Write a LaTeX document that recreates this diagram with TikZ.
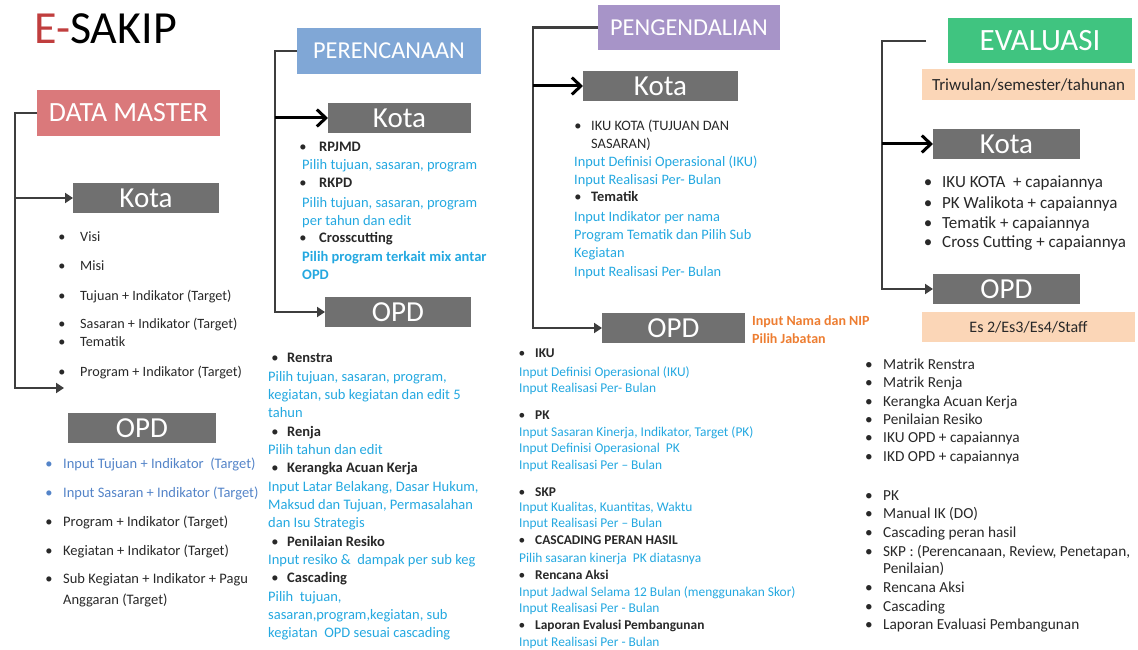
\documentclass[tikz,border=0pt]{standalone}
\usepackage{fontspec}
\setmainfont{Carlito}
\usetikzlibrary{arrows.meta}
\definecolor{titlered}{RGB}{192,62,62}
\definecolor{dmred}{RGB}{218,121,123}
\definecolor{perblue}{RGB}{128,167,214}
\definecolor{penpurple}{RGB}{167,148,200}
\definecolor{evgreen}{RGB}{64,196,128}
\definecolor{peach}{RGB}{251,214,183}
\definecolor{boxgray}{RGB}{112,112,112}
\definecolor{linegray}{RGB}{62,62,62}
\definecolor{txtblue}{RGB}{36,168,224}
\definecolor{opdblue}{RGB}{84,132,200}
\definecolor{txtorange}{RGB}{237,125,49}
\definecolor{txtdark}{RGB}{40,40,40}
\newcommand\fA{\fontsize{14.2}{17}\selectfont}
\newcommand\fB{\fontsize{14.5}{17}\selectfont}
\newcommand\fC{\fontsize{14.4}{17}\selectfont}
\newcommand\fD{\fontsize{13.4}{16}\selectfont}
\newcommand\fE{\fontsize{17}{20}\selectfont}
\newcommand\fF{\fontsize{15.3}{18}\selectfont}
\begin{document}
\begin{tikzpicture}[x=1pt,y=-1pt,
  bx/.style={inner sep=0pt, outer sep=0pt},
  hdr/.style={bx, text=white},
  gbox/.style={bx, fill=boxgray, text=white, font=\fontsize{29}{32}\selectfont},
  pbox/.style={bx, fill=peach, text=txtdark},
  itm/.style={anchor=base west, inner sep=0pt, text=txtdark},
  bitm/.style={itm, text=txtblue},
  bl/.style={anchor=base, inner sep=0pt, text=txtdark},
  conn/.style={draw=linegray, line width=2.6pt, -{Triangle[length=8pt,width=10pt]}},
  karrow/.style={draw=black, line width=3pt, -{Straight Barb[length=9pt,width=17pt]}}]
\path[use as bounding box] (0,0) rectangle (1138,650);

% title
\node[anchor=base west, inner sep=0pt, font=\fontsize{46}{52}\selectfont] (title) at (34,44) {\textcolor{titlered}{E-}SAKIP};

% ---------------- column 1: DATA MASTER
\node[hdr, fill=dmred, minimum width=183pt, minimum height=46pt, font=\fontsize{27.8}{32}\selectfont] (dm) at (128.5,113) {DATA MASTER};
\node[gbox, minimum width=146pt, minimum height=30pt] (dk) at (146,198) {Kota};
\node[gbox, minimum width=148pt, minimum height=30pt] (do) at (142,428) {OPD};
\coordinate (c1bot) at (15,388);
\coordinate (c1end) at (64,388);
\draw[conn] (dm.west) -| (c1bot) -- (c1end);
\draw[conn] (c1bot |- dk.west) -- (dk.west);

\foreach \n/\y/\t in {1/241/Visi,2/270/Misi,3/300/{Tujuan + Indikator (Target)},4/328/{Sasaran + Indikator (Target)},5/346/Tematik,6/376/{Program + Indikator (Target)}}{
  \node[bl, font=\fA] (dkb\n) at (62,\y) {•};
  \node[itm, font=\fA] (dkt\n) at (80,\y) {\t};}
\foreach \n/\y/\t in {1/468/{Input Tujuan + Indikator~~(Target)},2/497/{Input Sasaran + Indikator (Target)}}{
  \node[bl, text=opdblue, font=\fB] (dob\n) at (49,\y) {•};
  \node[itm, text=opdblue, font=\fB] (dot\n) at (63,\y) {\t};}
\foreach \n/\y/\t in {3/526/{Program + Indikator (Target)},4/555/{Kegiatan + Indikator (Target)},5/583/{Sub Kegiatan + Indikator + Pagu}}{
  \node[bl, font=\fB] (dob\n) at (49,\y) {•};
  \node[itm, font=\fB] (dot\n) at (63,\y) {\t};}
\node[itm, font=\fB] (dot6) at (63,604) {Anggaran (Target)};

% ---------------- column 2: PERENCANAAN
\node[hdr, fill=perblue, minimum width=184pt, minimum height=46pt, font=\fontsize{24.3}{28}\selectfont] (per) at (389,51) {PERENCANAAN};
\node[gbox, minimum width=143pt, minimum height=30pt] (pk) at (399.5,118) {Kota};
\node[gbox, minimum width=146pt, minimum height=30pt] (po) at (398,312) {OPD};
\coordinate (c2bot) at (275,312);
\draw[conn] (per.west) -| (c2bot) -- (po.west);
\draw[karrow] (c2bot |- pk.west) -- (pk.west);

\foreach \n/\y/\t in {1/152/RPJMD,2/187/RKPD,3/242/Crosscutting}{
  \node[bl, font=\fB] (pkb\n) at (303,\y) {•};
  \node[itm, font=\bfseries\fB] (pkt\n) at (319,\y) {\t};}
\foreach \n/\y/\t in {1/170/{Pilih tujuan, sasaran, program},2/207/{Pilih tujuan, sasaran, program},3/225/{per tahun dan edit}}{
  \node[bitm, font=\fB] (pku\n) at (302,\y) {\t};}
\foreach \n/\y/\t in {4/261/{Pilih program terkait mix antar},5/279/OPD}{
  \node[bitm, font=\bfseries\fB] (pku\n) at (302,\y) {\t};}

\foreach \n/\y/\t in {1/362/Renstra,2/436/Renja,3/472/{Kerangka Acuan Kerja},4/546/{Penilaian Resiko},5/582/Cascading}{
  \node[bl, font=\fB] (pob\n) at (275,\y) {•};
  \node[itm, font=\bfseries\fB] (pot\n) at (287,\y) {\t};}
\foreach \n/\y/\t in {1/381/{Pilih tujuan, sasaran, program,},2/399/{kegiatan, sub kegiatan dan edit 5},3/417/tahun,4/454/{Pilih tahun dan edit},5/491/{Input Latar Belakang, Dasar Hukum,},6/509/{Maksud dan Tujuan, Permasalahan},7/527/{dan Isu Strategis},8/564/{Input resiko \&~~dampak per sub keg},9/601/{Pilih~~tujuan,},10/619/{sasaran,program,kegiatan, sub},11/637/{kegiatan~~OPD sesuai cascading}}{
  \node[bitm, font=\fB] (pou\n) at (268,\y) {\t};}

% ---------------- column 3: PENGENDALIAN
\node[hdr, fill=penpurple, minimum width=182pt, minimum height=45pt, font=\fontsize{24.3}{28}\selectfont] (pen) at (689,27.5) {PENGENDALIAN};
\node[gbox, minimum width=155pt, minimum height=30pt] (gk) at (660.5,86) {Kota};
\node[gbox, minimum width=143pt, minimum height=30pt] (go) at (673.5,328) {OPD};
\coordinate (c3bot) at (533,328);
\draw[conn] (pen.west) -| (c3bot) -- (go.west);
\draw[karrow] (c3bot |- gk.west) -- (gk.west);

\node[bl, font=\fC] (gkb1) at (578,131) {•};
\node[itm, font=\fC] (gkt1) at (591,131) {IKU KOTA (TUJUAN DAN};
\node[itm, font=\fC] (gkt2) at (591,149) {SASARAN)};
\node[bl, font=\fC] (gkb3) at (578,201) {•};
\node[itm, font=\bfseries\fC] (gkt3) at (591,201) {Tematik};
\foreach \n/\y/\t in {1/167/{Input Definisi Operasional (IKU)},2/184/{Input Realisasi Per- Bulan},3/221/{Input Indikator per nama},4/239/{Program Tematik dan Pilih Sub},5/257/Kegiatan,6/276/{Input Realisasi Per- Bulan}}{
  \node[bitm, font=\fC] (gku\n) at (574,\y) {\t};}

\node[itm, text=txtorange, font=\bfseries\fontsize{14}{16}\selectfont] (orn1) at (752,325) {Input Nama dan NIP};
\node[itm, text=txtorange, font=\bfseries\fontsize{14}{16}\selectfont] (orn2) at (752,343) {Pilih Jabatan};

\foreach \n/\y/\t in {1/357/IKU,2/419/PK,3/496/SKP,4/544/{CASCADING PERAN HASIL},5/579/{Rencana Aksi},6/629/{Laporan Evalusi Pembangunan}}{
  \node[bl, font=\fD] (gob\n) at (522,\y) {•};
  \node[itm, font=\bfseries\fD] (got\n) at (535,\y) {\t};}
\foreach \n/\y/\t in {1/376/{Input Definisi Operasional (IKU)},2/392/{Input Realisasi Per- Bulan},3/436/{Input Sasaran Kinerja, Indikator, Target (PK)},4/452/{Input Definisi Operasional~~PK},5/469/{Input Realisasi Per – Bulan},6/511/{Input Kualitas, Kuantitas, Waktu},7/527/{Input Realisasi Per – Bulan},8/562/{Pilih sasaran kinerja~~PK diatasnya},9/596/{Input Jadwal Selama 12 Bulan (menggunakan Skor)},10/612/{Input Realisasi Per - Bulan},11/646/{Input Realisasi Per - Bulan}}{
  \node[bitm, font=\fD] (gou\n) at (519,\y) {\t};}

% ---------------- column 4: EVALUASI
\node[hdr, fill=evgreen, minimum width=184pt, minimum height=45pt, font=\fontsize{31}{34}\selectfont] (ev) at (1040,40.5) {EVALUASI};
\node[pbox, minimum width=213pt, minimum height=31pt, font=\fontsize{17}{20}\selectfont] (tri) at (1028.5,84.5) {Triwulan/semester/tahunan};
\node[gbox, minimum width=147pt, minimum height=30pt] (ek) at (1006.5,144) {Kota};
\node[gbox, minimum width=147pt, minimum height=30pt] (eo) at (1006.5,289) {OPD};
\node[pbox, minimum width=213pt, minimum height=30pt, font=\fontsize{16}{19}\selectfont] (es) at (1028.5,327) {Es 2/Es3/Es4/Staff};
\coordinate (c4top) at (926,41);
\coordinate (c4bot) at (882,289);
\draw[conn] (c4top) -| (c4bot) -- (eo.west);
\draw[karrow] (c4bot |- ek.west) -- (ek.west);

\foreach \n/\y/\t in {1/187/{IKU KOTA~~+ capaiannya},2/208/{PK Walikota + capaiannya},3/228/{Tematik + capaiannya},4/247/{Cross Cutting + capaiannya}}{
  \node[bl, font=\fE] (ekb\n) at (928,\y) {•};
  \node[itm, font=\fE] (ekt\n) at (942,\y) {\t};}
\foreach \n/\y/\t in {1/369/{Matrik Renstra},2/387/{Matrik Renja},3/406/{Kerangka Acuan Kerja},4/424/{Penilaian Resiko},5/442/{IKU OPD + capaiannya},6/461/{IKD OPD + capaiannya},7/500/PK,8/518/{Manual IK (DO)},9/537/{Cascading peran hasil},10/556/{SKP : (Perencanaan, Review, Penetapan,},12/592/{Rencana Aksi},13/611/Cascading,14/629/{Laporan Evaluasi Pembangunan}}{
  \node[bl, font=\fF] (eob\n) at (869,\y) {•};
  \node[itm, font=\fF] (eot\n) at (883,\y) {\t};}
\node[itm, font=\fF] (eot11) at (883,573) {Penilaian)};
\end{tikzpicture}
\end{document}
